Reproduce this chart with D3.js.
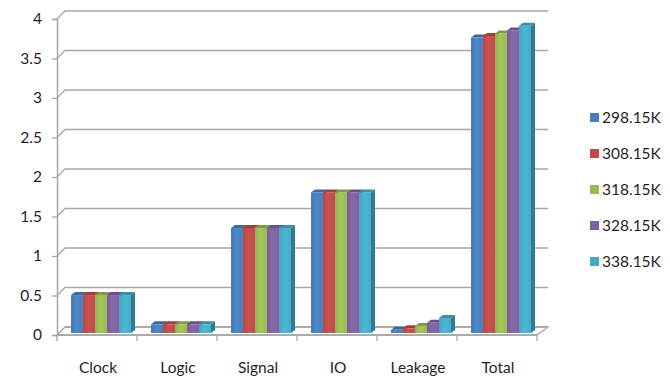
<!DOCTYPE html>
<html>
<head>
<meta charset="utf-8">
<script src="https://cdn.jsdelivr.net/npm/d3@7"></script>
<style>
  html, body { margin: 0; padding: 0; background: #fff; }
  svg { display: block; }
  text { font-family: Lato, "Open Sans", sans-serif; fill: #1f1f1f; }
</style>
</head>
<body>
<svg id="chart" width="670" height="378"></svg>
<script>
// Power components (W) at five temperatures
const categories = ["Clock", "Logic", "Signal", "IO", "Leakage", "Total"];
const seriesNames = ["298.15K", "308.15K", "318.15K", "328.15K", "338.15K"];
const t298 = [0.48, 0.11, 1.33, 1.78, 0.04, 3.74];
const t308 = [0.48, 0.11, 1.33, 1.78, 0.06, 3.76];
const t318 = [0.48, 0.11, 1.33, 1.78, 0.09, 3.79];
const t328 = [0.48, 0.11, 1.33, 1.78, 0.13, 3.83];
const t338 = [0.48, 0.11, 1.33, 1.78, 0.19, 3.89];
const seriesValues = [t298, t308, t318, t328, t338];
const yTicks = [0, 0.5, 1, 1.5, 2, 2.5, 3, 3.5, 4];
const colors = ["#4a7ebb", "#be4b48", "#98b954", "#7d60a0", "#46aac5"];

const svg = d3.select("#chart");

// plot frame: front plane of the 3D box and the depth offset to the back wall
const plotLeft = 57, plotRight = 537, plotBottom = 335, plotTop = 19;
const depthX = 8, depthY = 8;

const y = d3.scaleLinear().domain([0, 4]).range([plotBottom, plotTop]);
const xCat = d3.scaleBand().domain(categories).range([plotLeft, plotRight]).padding(0);
const x = d3.scaleBand().domain(categories).range([plotLeft, plotRight])
  .paddingInner(0.25).paddingOuter(0.125);
const xs = d3.scaleBand().domain(seriesNames).range([0, x.bandwidth()]);

const gridColor = "#a6a6a6";

// back-wall gridlines, bent back from the value axis
const grid = svg.append("g");
yTicks.forEach(v => {
  const yy = y(v);
  grid.append("path")
    .attr("d", `M${plotLeft},${yy} L${plotLeft + depthX},${yy - depthY} L${plotRight + depthX + 3},${yy - depthY}`)
    .attr("fill", "none")
    .attr("stroke", gridColor)
    .attr("stroke-width", 1.3);
});

// floor
svg.append("path")
  .attr("d", `M${plotLeft},${plotBottom} L${plotRight},${plotBottom} L${plotRight + depthX + 3},${plotBottom - depthY} L${plotLeft + depthX},${plotBottom - depthY}`)
  .attr("fill", "none")
  .attr("stroke", gridColor)
  .attr("stroke-width", 1.3);

// value axis
const yAxis = d3.axisLeft(y).tickValues(yTicks).tickSize(5).tickPadding(10)
  .tickFormat(d => String(d));
const gy = svg.append("g").attr("transform", `translate(${plotLeft},0)`).call(yAxis);
gy.select(".domain").attr("stroke", gridColor).attr("stroke-width", 1.5);
gy.selectAll(".tick line").attr("stroke", gridColor).attr("stroke-width", 1.3);
gy.selectAll(".tick text").attr("font-size", 15.5).style("font-family", "Lato, 'Open Sans', sans-serif").attr("fill", "#1f1f1f");

// category axis: ticks at band edges, labels centred in bands
const gx = svg.append("g");
gx.append("line")
  .attr("x1", plotLeft).attr("x2", plotRight).attr("y1", plotBottom).attr("y2", plotBottom)
  .attr("stroke", gridColor).attr("stroke-width", 1.5);
const edges = categories.map(c => xCat(c)).concat([plotRight]);
gx.selectAll("line.tk").data(edges).join("line")
  .attr("class", "tk")
  .attr("x1", d => d).attr("x2", d => d)
  .attr("y1", plotBottom).attr("y2", plotBottom + 6)
  .attr("stroke", gridColor).attr("stroke-width", 1.3);
gx.selectAll("text").data(categories).join("text")
  .attr("x", d => xCat(d) + xCat.bandwidth() / 2 + 1)
  .attr("y", 373)
  .attr("text-anchor", "middle")
  .attr("font-size", 15.5)
  .text(d => d);

// gradients for the bar faces
const defs = svg.append("defs");
colors.forEach((c, i) => {
  const g = defs.append("linearGradient").attr("id", "grad" + i)
    .attr("x1", "0%").attr("x2", "100%").attr("y1", "0%").attr("y2", "0%");
  const base = d3.color(c);
  g.append("stop").attr("offset", "0%").attr("stop-color", base.darker(0.1));
  g.append("stop").attr("offset", "45%").attr("stop-color", base.brighter(0.2));
  g.append("stop").attr("offset", "100%").attr("stop-color", base.brighter(0.05));
});

// 3D columns
const fx = 4, fy = -2;       // front face offset inside the box
const dx = 4, dy = -3;       // column depth
const bars = [];
categories.forEach((cat, ci) => {
  seriesNames.forEach((s, si) => {
    bars.push({ cat, s, si, v: seriesValues[si][ci] });
  });
});
const gb = svg.append("g");
bars.forEach(b => {
  const x0 = x(b.cat) + xs(b.s) + fx;
  const w = xs.bandwidth();
  const y0 = y(0) + fy;
  const y1 = y(b.v) + fy;
  const base = d3.color(colors[b.si]);
  // side face
  gb.append("path")
    .attr("d", `M${x0 + w},${y1} L${x0 + w + dx},${y1 + dy} L${x0 + w + dx},${y0 + dy} L${x0 + w},${y0} Z`)
    .attr("fill", base.darker(0.9));
  // top face
  gb.append("path")
    .attr("d", `M${x0},${y1} L${x0 + dx},${y1 + dy} L${x0 + w + dx},${y1 + dy} L${x0 + w},${y1} Z`)
    .attr("fill", base.darker(0.5));
  // front face
  gb.append("rect")
    .attr("x", x0).attr("y", y1)
    .attr("width", w).attr("height", Math.max(0, y0 - y1))
    .attr("fill", `url(#grad${b.si})`);
});

// legend
const legend = svg.append("g").attr("transform", "translate(590,118)");
seriesNames.forEach((s, i) => {
  const row = legend.append("g").attr("transform", `translate(0,${i * 36})`);
  row.append("rect").attr("x", 0).attr("y", -5).attr("width", 9).attr("height", 9)
    .attr("fill", colors[i]);
  row.append("text").attr("x", 12).attr("y", 0).attr("dy", "0.35em")
    .attr("font-size", 15.5).text(s);
});
</script>
</body>
</html>
